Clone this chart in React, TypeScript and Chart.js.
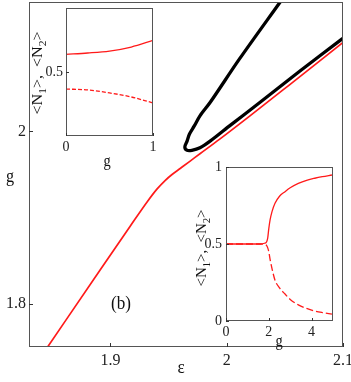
import React, { useEffect, useRef } from "react";
import { Chart, registerables } from "chart.js";

Chart.register(...registerables);

// ---------- data ----------
const MAIN_X_TICKS = [1.9, 2, 2.1];
const MAIN_Y_TICKS = [1.8, 2];

const RED_EPS = [1.846, 1.891, 1.917, 1.932, 1.94, 1.947, 1.953, 1.96, 1.968, 1.977, 1.994, 2.02, 2.054, 2.1];
const RED_SIGMA = [1.75, 1.839, 1.89, 1.919, 1.933, 1.943, 1.95, 1.957, 1.965, 1.974, 1.991, 2.018, 2.054, 2.103];

const BLACK_EPS = [2.046, 2.011, 1.986, 1.977, 1.972, 1.968, 1.966, 1.964, 1.966, 1.97, 1.977, 1.986, 2.003, 2.029, 2.063, 2.099, 2.1];
const BLACK_SIGMA = [2.15, 2.084, 2.034, 2.018, 2.006, 1.997, 1.989, 1.982, 1.978, 1.978, 1.981, 1.989, 2.007, 2.034, 2.07, 2.107, 2.108];

const INSET1_X_TICKS = [0, 1];
const INSET1_Y_TICKS = [0.5];
const INSET1_G = [0, 0.25, 0.5, 0.75, 1];
const INSET1_N1 = [0.583, 0.589, 0.598, 0.617, 0.648];
const INSET1_N2 = [0.42, 0.416, 0.402, 0.383, 0.355];

const INSET2_X_TICKS = [0, 2, 4];
const INSET2_Y_TICKS = [0, 0.5, 1];
const INSET2_G = [0, 1, 1.6, 1.8, 1.9, 1.95, 2.0, 2.06, 2.15, 2.29, 2.5, 2.76, 3.0, 3.38, 3.8, 4.15, 4.5, 4.95];
const INSET2_N1 = [0.5, 0.5, 0.5, 0.505, 0.515, 0.54, 0.6, 0.656, 0.71, 0.764, 0.81, 0.84, 0.865, 0.894, 0.915, 0.927, 0.937, 0.948];
const INSET2_N2 = [0.5, 0.5, 0.5, 0.497, 0.49, 0.475, 0.45, 0.4, 0.34, 0.265, 0.215, 0.175, 0.14, 0.105, 0.08, 0.065, 0.055, 0.045];

const SERIF = "Times New Roman, Liberation Serif, DejaVu Serif, Times, serif";

function pts(xs: number[], ys: number[]) {
  return xs.map((x, i) => ({ x, y: ys[i] }));
}

type TextItem = { text: string; x: number; y: number; size: number; sx?: number };
type YTitle = { x: number; y: number; len: number; size: number };

function drawText(ctx: CanvasRenderingContext2D, t: TextItem) {
  ctx.save();
  ctx.translate(t.x, t.y);
  ctx.scale(t.sx ?? 0.9, 1);
  ctx.font = `${t.size}px ${SERIF}`;
  ctx.textAlign = "center";
  ctx.textBaseline = "middle";
  ctx.fillStyle = "#111";
  ctx.fillText(t.text, 0, 0);
  ctx.restore();
}

function drawYTitle(ctx: CanvasRenderingContext2D, t: YTitle) {
  const segs: { s: string; sub: boolean }[] = [
    { s: "<N", sub: false },
    { s: "1", sub: true },
    { s: ">,  <N", sub: false },
    { s: "2", sub: true },
    { s: ">", sub: false },
  ];
  const big = `${t.size}px ${SERIF}`;
  const small = `${Math.round(t.size * 0.7)}px ${SERIF}`;
  ctx.save();
  let total = 0;
  for (const sg of segs) {
    ctx.font = sg.sub ? small : big;
    total += ctx.measureText(sg.s).width;
  }
  ctx.translate(t.x, t.y);
  ctx.rotate(-Math.PI / 2);
  ctx.scale(t.len / total, 1);
  ctx.fillStyle = "#111";
  ctx.textBaseline = "middle";
  ctx.textAlign = "left";
  let cx = -total / 2;
  for (const sg of segs) {
    ctx.font = sg.sub ? small : big;
    ctx.fillText(sg.s, cx, sg.sub ? t.size * 0.35 : 0);
    cx += ctx.measureText(sg.s).width;
  }
  ctx.restore();
}

function framePlugin(texts: TextItem[], ytitle: YTitle | null, tickLen: number) {
  return {
    id: "frame",
    beforeDraw(chart: any) {
      const { ctx, chartArea: a } = chart;
      ctx.save();
      ctx.fillStyle = "#ffffff";
      ctx.fillRect(a.left, a.top, a.right - a.left, a.bottom - a.top);
      ctx.restore();
    },
    afterDraw(chart: any) {
      const { ctx, chartArea: a } = chart;
      ctx.save();
      ctx.strokeStyle = "#555";
      ctx.lineWidth = 1;
      ctx.strokeRect(a.left + 0.5, a.top + 0.5, a.right - a.left - 1, a.bottom - a.top - 1);
      ctx.strokeStyle = "#333";
      ctx.beginPath();
      const sx = chart.scales.x;
      for (const t of sx.ticks) {
        const p = Math.round(sx.getPixelForValue(t.value)) + 0.5;
        ctx.moveTo(p, a.bottom);
        ctx.lineTo(p, a.bottom - tickLen);
      }
      const sy = chart.scales.y;
      for (const t of sy.ticks) {
        const p = Math.round(sy.getPixelForValue(t.value)) + 0.5;
        ctx.moveTo(a.left, p);
        ctx.lineTo(a.left + tickLen, p);
      }
      ctx.stroke();
      ctx.restore();
      for (const t of texts) drawText(ctx, t);
      if (ytitle) drawYTitle(ctx, ytitle);
    },
  };
}

function axis(
  min: number,
  max: number,
  ticks: number[],
  size: number,
  padding: number,
  fitSize: number,
  horizontal: boolean
) {
  return {
    type: "linear",
    min,
    max,
    afterBuildTicks: (s: any) => {
      s.ticks = ticks.map((value) => ({ value }));
    },
    afterFit: (s: any) => {
      if (horizontal) s.height = fitSize;
      else s.width = fitSize;
      s.paddingLeft = 0;
      s.paddingRight = 0;
      s.paddingTop = 0;
      s.paddingBottom = 0;
    },
    grid: { display: false, drawTicks: false, tickLength: 0 },
    border: { display: false },
    ticks: {
      autoSkip: false,
      maxRotation: 0,
      minRotation: 0,
      padding,
      color: "#222",
      font: { family: SERIF, size },
      callback: (v: any) => String(v),
    },
  };
}

function baseOptions(top: number, right: number, x: any, y: any) {
  return {
    responsive: false,
    animation: false,
    devicePixelRatio: 1,
    layout: { padding: { top, right, left: 0, bottom: 0 } },
    plugins: { legend: { display: false }, tooltip: { enabled: false } },
    elements: { point: { radius: 0 } },
    scales: { x, y },
  };
}

export default function App() {
  const mainRef = useRef<HTMLCanvasElement>(null);
  const in1Ref = useRef<HTMLCanvasElement>(null);
  const in2Ref = useRef<HTMLCanvasElement>(null);

  useEffect(() => {
    const charts: Chart[] = [];

    charts.push(
      new Chart(mainRef.current as HTMLCanvasElement, {
        type: "line",
        data: {
          datasets: [
            {
              data: pts(RED_EPS, RED_SIGMA),
              borderColor: "#ff1a1a",
              borderWidth: 1.7,
              cubicInterpolationMode: "monotone",
              pointRadius: 0,
              fill: false,
            },
            {
              data: pts(BLACK_EPS, BLACK_SIGMA),
              borderColor: "#000000",
              borderWidth: 3.3,
              tension: 0.3,
              pointRadius: 0,
              fill: false,
            },
          ],
        },
        options: baseOptions(
          2,
          8,
          axis(1.83, 2.1, MAIN_X_TICKS, 16, 4, 35, true),
          axis(1.75, 2.15, MAIN_Y_TICKS, 16, 3, 29, false)
        ) as any,
        plugins: [
          framePlugin(
            [
              { text: "\u03b5", x: 181, y: 368, size: 19 },
              { text: "g", x: 10, y: 177, size: 18 },
              { text: "(b)", x: 121, y: 304, size: 19 },
            ],
            null,
            4
          ),
        ],
      } as any)
    );

    charts.push(
      new Chart(in1Ref.current as HTMLCanvasElement, {
        type: "line",
        data: {
          datasets: [
            {
              data: pts(INSET1_G, INSET1_N1),
              borderColor: "#ff1a1a",
              borderWidth: 1.3,
              cubicInterpolationMode: "monotone",
              pointRadius: 0,
              fill: false,
            },
            {
              data: pts(INSET1_G, INSET1_N2),
              borderColor: "#ff1a1a",
              borderWidth: 1.3,
              borderDash: [4, 2],
              cubicInterpolationMode: "monotone",
              pointRadius: 0,
              fill: false,
            },
          ],
        },
        options: baseOptions(
          8,
          12,
          axis(0, 1, INSET1_X_TICKS, 14, 3, 39, true),
          axis(0.2, 0.8, INSET1_Y_TICKS, 14, 3, 46, false)
        ) as any,
        plugins: [
          framePlugin(
            [{ text: "g", x: 87, y: 162, size: 16 }],
            { x: 18, y: 73, len: 83, size: 14 },
            3
          ),
        ],
      } as any)
    );

    charts.push(
      new Chart(in2Ref.current as HTMLCanvasElement, {
        type: "line",
        data: {
          datasets: [
            {
              data: pts(INSET2_G, INSET2_N1),
              borderColor: "#ff1a1a",
              borderWidth: 1.3,
              cubicInterpolationMode: "monotone",
              pointRadius: 0,
              fill: false,
            },
            {
              data: pts(INSET2_G, INSET2_N2),
              borderColor: "#ff1a1a",
              borderWidth: 1.3,
              borderDash: [7, 3],
              cubicInterpolationMode: "monotone",
              pointRadius: 0,
              fill: false,
            },
          ],
        },
        options: baseOptions(
          12,
          18,
          axis(0, 5, INSET2_X_TICKS, 14, 3, 61, true),
          axis(0, 1, INSET2_Y_TICKS, 14, 4, 36, false)
        ) as any,
        plugins: [
          framePlugin(
            [{ text: "g", x: 89, y: 187, size: 16 }],
            { x: 12, y: 93, len: 77, size: 14 },
            3
          ),
        ],
      } as any)
    );

    return () => {
      charts.forEach((c) => c.destroy());
    };
  }, []);

  const abs = (left: number, top: number): React.CSSProperties => ({
    position: "absolute",
    left,
    top,
    display: "block",
  });

  return (
    <div style={{ position: "absolute", left: 0, top: 0, width: 351, height: 382, background: "#fff" }}>
      <canvas ref={mainRef} width={351} height={382} style={{ ...abs(0, 0), width: 351, height: 382 }} />
      <canvas ref={in1Ref} width={145} height={175} style={{ ...abs(20, 0), width: 145, height: 175 }} />
      <canvas ref={in2Ref} width={161} height={227} style={{ ...abs(190, 155), width: 161, height: 227 }} />
    </div>
  );
}
